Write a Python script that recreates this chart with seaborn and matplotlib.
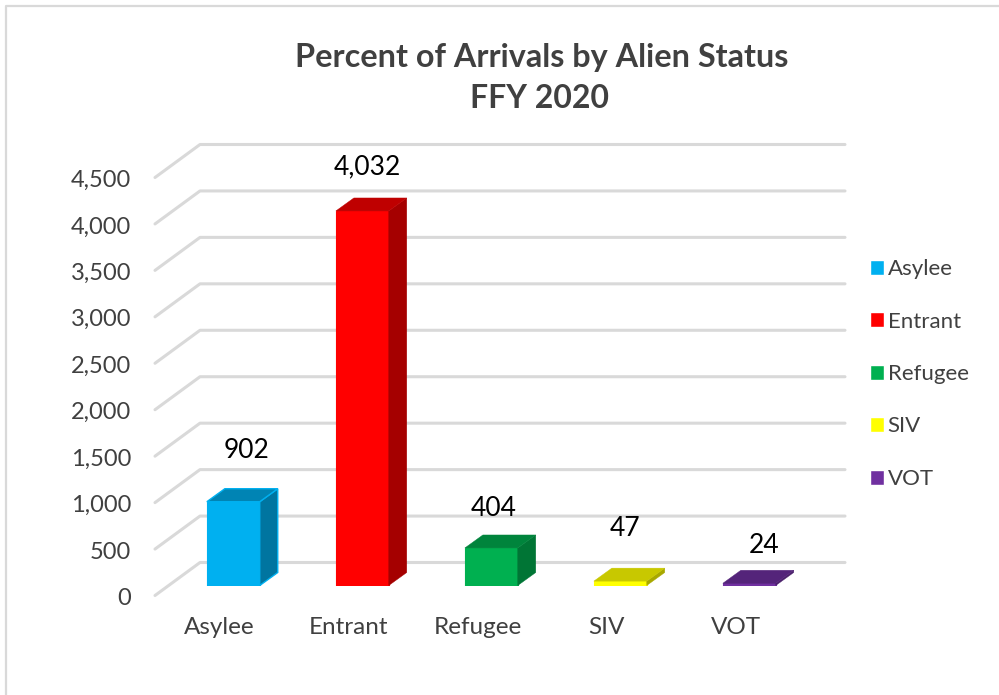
import matplotlib
matplotlib.use("Agg")
import matplotlib.pyplot as plt
import matplotlib.transforms as mtransforms
import numpy as np
import pandas as pd
import seaborn as sns
from matplotlib.lines import Line2D
from matplotlib.patches import Polygon

# values
categories = ["Asylee", "Entrant", "Refugee", "SIV", "VOT"]
arrivals = [902, 4032, 404, 47, 24]
y_ticks = [0, 500, 1000, 1500, 2000, 2500, 3000, 3500, 4000, 4500]

front_colors = ["#00B0F0", "#FF0000", "#00B050", "#FFFF00", "#7030A0"]
side_colors = ["#0075A0", "#A50000", "#007535", "#A8A800", "#4B206B"]
top_colors = ["#0084B4", "#BF0000", "#00843C", "#C8C800", "#54247A"]
# only the blue bar shows a bright outline on its darker faces
outline_widths = [1.0, 0.3, 0.3, 0.3, 0.3]

# data label nudges in pixels, the original labels sit at odd heights
label_dx = [13, 5, 2, 5, 15]
label_dy = [51, 44, 39, 53, 38]

TEXT = "#404040"
GRID = "#d9d9d9"
W, H = 999, 695

sns.set_theme(style="white")
plt.rcParams["font.family"] = ["Lato", "DejaVu Sans"]

df = pd.DataFrame({"status": categories, "arrivals": arrivals})

fig = plt.figure(figsize=(W / 100, H / 100), dpi=100)
# this axes is the plane of the bar fronts, the walls are offset from it
ax = fig.add_axes([168.8 / W, (H - 585.5) / H, 645 / W, 418 / H])
sns.barplot(data=df, x="status", y="arrivals", hue="status", order=categories,
            hue_order=categories, palette=front_colors, saturation=1, width=0.41,
            dodge=False, legend=True, ax=ax, zorder=3)
ax.set_xlim(-0.5, 4.5)
ax.set_ylim(0, 4500)
ax.set_xlabel("")
ax.set_ylabel("")
sns.despine(ax=ax, left=True, bottom=True)

ident = mtransforms.IdentityTransform()

# back wall and side wall gridlines
for t in y_ticks:
    x0, y0 = ax.transData.transform((-0.5, t))
    x1, _ = ax.transData.transform((4.5, t))
    pts = [(x0 - 13.8, y0 - 10), (x0 + 31.2, y0 + 23), (x1 + 31.2, y0 + 23)]
    ax.add_line(Line2D(*zip(*pts), transform=ident, color=GRID, lw=2.2,
                       clip_on=False, zorder=1, solid_capstyle="round"))

# 3d faces of the bars
dx, dy = 18, 13
for bar, top, side, front, lw in zip(ax.patches, top_colors, side_colors,
                                     front_colors, outline_widths):
    bar.set_edgecolor(front)
    bar.set_linewidth(0.8)
    x = bar.get_x()
    w = bar.get_width()
    h = bar.get_height()
    (xl, yb), (xr, yt) = ax.transData.transform([(x, 0), (x + w, h)])
    edge = front if lw > 0.5 else side
    ax.add_patch(Polygon([(xr, yb), (xr + dx, yb + dy), (xr + dx, yt + dy), (xr, yt)],
                         transform=ident, facecolor=side, edgecolor=edge, lw=lw,
                         clip_on=False, zorder=3))
    edge = front if lw > 0.5 else top
    ax.add_patch(Polygon([(xl, yt), (xr, yt), (xr + dx, yt + dy), (xl + dx, yt + dy)],
                         transform=ident, facecolor=top, edgecolor=edge, lw=lw,
                         clip_on=False, zorder=3))

# data labels
for i, v in enumerate(arrivals):
    ax.annotate(f"{v:,}", (i, v), xytext=(label_dx[i], label_dy[i]),
                textcoords="offset pixels", ha="center", va="center",
                fontsize=19, color="black", zorder=5)

# ticks, shifted to the front edge of the floor
ax.set_yticks(y_ticks)
ax.set_yticklabels([f"{t:,}" for t in y_ticks])
ax.tick_params(axis="y", length=0, pad=27, labelsize=17, labelcolor=TEXT)
ax.tick_params(axis="x", length=0, pad=22.5, labelsize=17.5, labelcolor=TEXT)
y_shift = mtransforms.Affine2D().translate(0, -11)
x_shift = mtransforms.Affine2D().translate(-13.8, 0)
for lab in ax.get_yticklabels():
    lab.set_transform(lab.get_transform() + y_shift)
for lab in ax.get_xticklabels():
    lab.set_transform(lab.get_transform() + x_shift)

sns.move_legend(ax, "center left", bbox_to_anchor=(849.5 / W, (H - 374) / H),
                bbox_transform=fig.transFigure, frameon=False, title=None,
                fontsize=16, labelspacing=1.46, handlelength=0.66, handleheight=0.66,
                handletextpad=0.15, labelcolor=TEXT)

fig.text(542 / W, (H - 58) / H, "Percent of Arrivals by Alien Status", ha="center",
         va="center", fontsize=23.3, fontweight="bold", color=TEXT)
fig.text(540 / W, (H - 99) / H, "FFY 2020", ha="center", va="center", fontsize=23,
         fontweight="bold", color=TEXT)

# chart frame, runs off the right and bottom of the picture
fig.add_artist(Line2D([6 / W, 6 / W, 1], [0, (H - 6) / H, (H - 6) / H],
                      transform=fig.transFigure, color=GRID, lw=1.6))

fig.savefig("out.png", dpi=100)
